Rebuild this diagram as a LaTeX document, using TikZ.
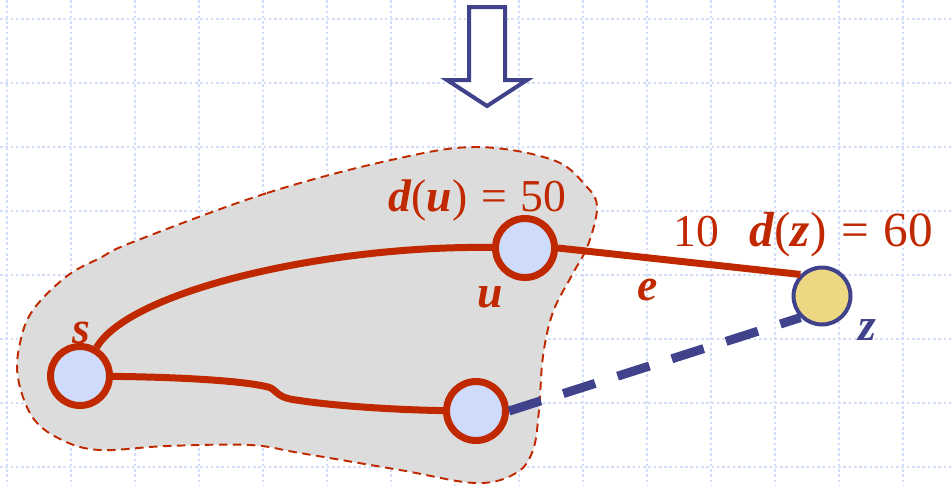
\documentclass[tikz,border=0pt]{standalone}
\usepackage{fontspec}
\setmainfont{Liberation Serif}
\usepackage{tikz}
\usetikzlibrary{arrows.meta,positioning,calc}
\definecolor{EdgeRed}{RGB}{192,41,0}
\definecolor{DeepBlue}{RGB}{64,66,140}
\definecolor{PaleBlue}{RGB}{206,219,250}
\definecolor{CloudGray}{RGB}{220,220,220}
\definecolor{PaleGold}{RGB}{236,215,130}
\definecolor{GridBlue}{RGB}{212,221,248}
\newcommand{\vname}[1]{\textbf{\textit{#1}}}
\newcommand{\eqsign}{\hspace{0.3em}=\hspace{0.3em}}
\tikzset{
  gridline/.style={draw=GridBlue, line width=0.6pt, dash pattern=on 1.5pt off 1.5pt},
  cloudbox/.style={draw=EdgeRed, fill=CloudGray, line width=1.1pt,
    dash pattern=on 0.17cm off 0.11cm},
  hollowarr/.style={draw=DeepBlue, fill=white, line width=0.08cm, line join=miter},
  vtx/.style={circle, draw=EdgeRed, fill=PaleBlue, line width=0.14cm,
    minimum size=1.18cm, inner sep=0pt},
  zvtx/.style={circle, draw=DeepBlue, fill=PaleGold, line width=0.08cm,
    minimum size=1.14cm, inner sep=0pt},
  treearc/.style={draw=EdgeRed, line width=0.14cm},
  candarc/.style={draw=DeepBlue, line width=0.18cm, dash pattern=on 0.67cm off 0.47cm},
  lbl/.style={text=EdgeRed, inner sep=0pt, font=\fontsize{26}{30}\selectfont},
  biglbl/.style={lbl, font=\fontsize{28}{32}\selectfont},
}
\begin{document}
\begin{tikzpicture}[x=0.02cm, y=-0.02cm]
  \useasboundingbox (0,0) rectangle (952,485);
  % rejilla de fondo
  \foreach \gx in {7,71,...,903} \draw[gridline] (\gx,0) -- (\gx,485);
  \foreach \gy in {19,83,...,467} \draw[gridline] (0,\gy) -- (952,\gy);
  % nube de vertices ya alcanzados
  \draw[cloudbox] plot[smooth cycle, tension=0.6] coordinates {
    (133,242) (267,193) (391,160) (476,147) (553,160) (586,186) (597,207)
    (588,245) (572,275) (553,312) (543,356) (539,410) (533,450) (516,473)
    (476,483) (400,470) (300,453) (250,445) (167,446) (100,450) (62,440)
    (33,418) (18,378) (20,343) (33,310) (67,276) (100,258)};
  % flecha hueca
  \draw[hollowarr] (469,7) -- (505,7) -- (505,80) -- (527,80) -- (487,106)
    -- (447,80) -- (469,80) -- cycle;
  % vertices
  \node[vtx] (s) at (80,376) {};
  \node[vtx] (u) at (525,248) {};
  \node[vtx] (w) at (476,411) {};
  \node[zvtx] (z) at (822,296) {};
  % aristas
  \draw[treearc] (s) .. controls (130,290) and (330,245) .. (u);
  \draw[treearc] (s) .. controls (170,377) and (240,380) .. (268,387)
    .. controls (276,389) and (276,396) .. (290,399)
    .. controls (330,406) and (400,410) .. (w);
  \draw[treearc] (u.east) -- (z.north west);
  \draw[candarc] (w.east) -- (z.south west);
  % etiquetas
  \node[lbl, anchor=base west] (du) at (388,211) {\vname{d}(\vname{u})\eqsign50};
  \node[lbl, anchor=base] (ulab) at (490,307) {\vname{u}};
  \node[lbl, anchor=base] (slab) at (81,343) {\vname{s}};
  \node[lbl, anchor=base] (elab) at (648,300) {\vname{e}};
  \node[lbl, anchor=base west] (wt) at (673,246) {10};
  \node[biglbl, anchor=base west] (dz) at (749,246) {\vname{d}(\vname{z})\eqsign60};
  \node[lbl, text=DeepBlue, anchor=base] (zlab) at (867,340) {\vname{z}};
\end{tikzpicture}
\end{document}
